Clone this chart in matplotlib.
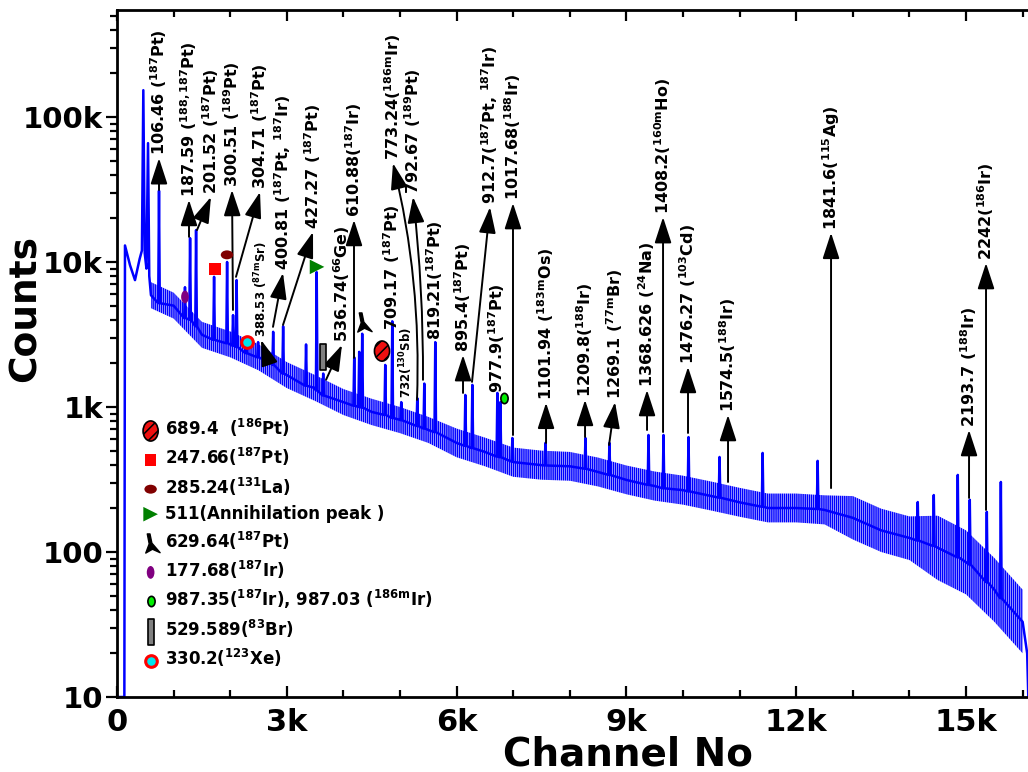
import matplotlib
matplotlib.use('Agg')
import matplotlib.pyplot as plt
from matplotlib.path import Path
from matplotlib.transforms import Affine2D
from matplotlib.ticker import FixedLocator, LogLocator, NullFormatter

plt.rcParams['font.family'] = 'DejaVu Sans'
plt.rcParams['font.weight'] = 'bold'
plt.rcParams['mathtext.default'] = 'regular'
plt.rcParams['hatch.linewidth'] = 1.1

# ---- spectrum (channel, counts) ----
# rising edge and the strong low-energy x-ray peaks
start_ch = [0, 130, 141, 230, 318, 400, 440, 465, 490, 520, 548, 570, 600]
start_cnt = [10, 10, 13000, 9500, 7500, 10500, 12000, 153000, 11500, 9000, 66000, 8000, 5900]

# continuum: lower / middle / upper envelope of the noisy band
band_ch = [600, 1000, 1500, 2000, 2500, 3000, 3500, 4000, 4500, 5000, 5500, 6000,
           6500, 7000, 7500, 8000, 8500, 9000, 9500, 10000, 10500, 11000, 11500,
           12000, 12500, 13000, 13500, 14000, 14500, 15000, 15500, 16000]
band_mid = [5900, 5000, 3150, 2700, 2200, 1660, 1350, 1080, 925, 815, 694, 565,
            490, 417, 397, 390, 356, 314, 285, 267, 243, 220, 201,
            201, 195, 172, 141, 125, 107, 85, 55, 33]
band_lo = [4800, 4070, 2560, 2200, 1790, 1350, 1100, 880, 750, 660, 565, 450,
           390, 330, 315, 310, 283, 250, 226, 212, 193, 175, 160,
           160, 155, 122, 100, 88, 64, 51, 33, 20]
band_hi = [7260, 6150, 3870, 3320, 2710, 2040, 1660, 1330, 1140, 1000, 855, 710,
           615, 525, 500, 490, 448, 395, 359, 336, 306, 277, 253,
           253, 246, 243, 199, 176, 178, 141, 91, 55]

# peaks: channel, top counts, counts at the foot
peak_ch = [742, 1201, 1291, 1397, 1715, 1945, 2050, 2113, 2281, 2493, 2670, 2759,
           2935, 3340, 3528, 3643, 4191, 4279, 4332, 4739, 4863, 5022, 5305, 5429,
           5623, 6154, 6278, 6720, 6773, 6985, 7569, 8276, 8700, 9390, 9655, 10097,
           10645, 11406, 12378, 14147, 14430, 14854, 15066, 15367, 15615]
peak_cnt = [31000, 6700, 14600, 16600, 7900, 10000, 4300, 7500, 3000, 2800, 2360, 3300,
            3600, 2700, 8500, 1700, 2200, 2400, 3200, 1950, 3900, 1080, 1150, 1450,
            2800, 1210, 1420, 1250, 1080, 611, 565, 611, 565, 641, 641, 620,
            452, 482, 425, 221, 247, 340, 229, 189, 304]
peak_foot = [5200, 4100, 4000, 3600, 2900, 2750, 2650, 2600, 2350, 2200, 2050, 1950,
             1700, 1400, 1300, 1200, 1020, 1000, 990, 880, 840, 810, 740, 710,
             670, 540, 520, 455, 450, 420, 395, 375, 340, 290, 275, 262,
             237, 205, 198, 120, 110, 92, 82, 62, 48]

end_ch = [16080, 16100]
end_cnt = [20, 10]

# ---- annotations: label, arrow tail (ch, counts), arrow head (ch, counts), curvature ----
arrows = [
    (r'106.46 ($^{187}$Pt)', (742, 31400), (742, 52000), 0),
    (r'187.59 ($^{188,187}$Pt)', (1272, 14900), (1272, 26800), 0),
    (r'201.52 ($^{187}$Pt)', (1413, 16600), (1660, 28100), 0),
    (r'300.51 ($^{189}$Pt)', (2049, 4670), (2032, 31400), 0),
    (r'304.71 ($^{187}$Pt)', (2102, 7900), (2527, 30400), 0),
    (r'400.81 ($^{187}$Pt, $^{187}$Ir)', (2756, 3570), (2933, 8400), 0),
    (r'427.27 ($^{187}$Pt)', (2933, 3680), (3463, 16100), 0),
    (r'536.74($^{66}$Ge)', (3693, 1540), (3975, 2680), 0),
    (r'610.88($^{187}$Ir)', (4187, 2180), (4187, 19500), 0),
    (r'773.24($^{186m}$Ir)', (5300, 1120), (4876, 48000), 0.07),
    (r'792.67 ($^{189}$Pt)', (5406, 1540), (5230, 28100), 0.03),
    (r'895.4($^{187}$Pt)', (6113, 1250), (6113, 2280), 0),
    (r'912.7($^{187}$Pt, $^{187}$Ir)', (6272, 1490), (6590, 23900), 0),
    (r'1017.68($^{188}$Ir)', (6996, 641), (6996, 25500), 0),
    (r'1101.94 ($^{183m}$Os)', (7580, 565), (7580, 1070), 0),
    (r'1209.8($^{188}$Ir)', (8269, 621), (8269, 1120), 0),
    (r'1269.1 ($^{77m}$Br)', (8693, 547), (8799, 1080), 0),
    (r'1368.626 ($^{24}$Na)', (9364, 694), (9364, 1310), 0),
    (r'1408.2($^{160m}$Ho)', (9647, 672), (9647, 20400), 0),
    (r'1476.27 ($^{103}$Cd)', (10088, 662), (10088, 1890), 0),
    (r'1574.5($^{188}$Ir)', (10795, 304), (10795, 881), 0),
    (r'1841.6($^{115}$Ag)', (12615, 276), (12615, 15900), 0),
    (r'2193.7 ($^{188}$Ir)', (15053, 236), (15053, 694), 0),
    (r'2242($^{186}$Ir)', (15353, 195), (15353, 9840), 0),
]
small_arrows = [
    (r'388.53 ($^{87m}$Sr)', (2650, 2210), (2545, 2900), 0),
]
plain_labels = [
    (r'709.17 ($^{187}$Pt)', (4859, 3400), 11.5),
    (r'819.21($^{187}$Pt)', (5618, 2900), 11.5),
    (r'977.9($^{187}$Pt)', (6714, 1250), 11.5),
    (r'732($^{130}$Sb)', (5106, 1150), 8.5),
]

# ---- marked peaks (legend) ----
mark_labels = [r'689.4  ($^{186}$Pt)', r'247.66($^{187}$Pt)', r'285.24($^{131}$La)',
               '511(Annihilation peak )', r'629.64($^{187}$Pt)', r'177.68($^{187}$Ir)',
               r'987.35($^{187}$Ir), 987.03 ($^{186m}$Ir)', r'529.589($^{83}$Br)',
               r'330.2($^{123}$Xe)']
mark_ch = [4682, 1731, 1943, 3534, 4346, 1201, 6837, 3640, 2297]
mark_cnt = [2430, 8960, 11200, 9250, 3860, 5740, 1150, 2210, 2800]

y_ticks = [10, 100, 1000, 10000, 100000]
y_ticklabels = ['10', '100', '1k', '10k', '100k']
x_ticks = [0, 3000, 6000, 9000, 12000, 15000]
x_ticklabels = ['0', '3k', '6k', '9k', '12k', '15k']

# ---- build the spectrum line ----
pts = list(zip(start_ch, start_cnt)) + list(zip(band_ch, band_mid))
for c, h, f in zip(peak_ch, peak_cnt, peak_foot):
    pts += [(c - 14, f), (c, h), (c + 14, f)]
pts += list(zip(end_ch, end_cnt))
pts.sort()
spec_x = [p[0] for p in pts]
spec_y = [p[1] for p in pts]

fig = plt.figure(figsize=(10.28, 7.72), dpi=100)
ax = fig.add_axes([117 / 1028, 75 / 772, 913 / 1028, 687.5 / 772])

# noisy continuum drawn as a band of fine vertical strokes
ax.fill_between(band_ch, band_lo, band_hi, facecolor='none', edgecolor='#0000ff',
                hatch='||||||||', linewidth=0)
ax.plot(spec_x, spec_y, color='#0000ff', lw=1.8)

ax.set_yscale('log')
ax.set_xlim(0, 16130)
ax.set_ylim(10, 551000)

# markers
ellipse_v = Affine2D().scale(0.75, 1).transform_path(Path.unit_circle())
ellipse_h = Affine2D().scale(1, 0.72).transform_path(Path.unit_circle())
ellipse_thin = Affine2D().scale(0.6, 1).transform_path(Path.unit_circle())
ellipse_small = Affine2D().scale(0.7, 1).transform_path(Path.unit_circle())
bar = Path([(-0.12, -0.5), (0.12, -0.5), (0.12, 0.5), (-0.12, 0.5), (-0.12, -0.5)], closed=True)
bolt = Path([(-0.22, 0.5), (-0.08, 0.5), (0.02, 0.02), (0.45, -0.48), (0.05, -0.3),
             (-0.3, -0.5), (-0.12, -0.02), (-0.22, 0.5)], closed=True)

styles = [
    dict(marker=ellipse_v, s=210, facecolor='#ee1111', edgecolor='black', linewidth=1.2, hatch='///'),
    dict(marker='s', s=70, facecolor='#ff0000', edgecolor='none'),
    dict(marker=ellipse_h, s=80, facecolor='#800000', edgecolor='none'),
    dict(marker='>', s=110, facecolor='#008000', edgecolor='none'),
    dict(marker=bolt, s=190, facecolor='black', edgecolor='black'),
    dict(marker=ellipse_thin, s=85, facecolor='#800080', edgecolor='none'),
    dict(marker=ellipse_small, s=55, facecolor='#00ee00', edgecolor='black', linewidth=1.2),
    dict(marker=bar, s=330, facecolor='#808080', edgecolor='black', linewidth=1.2),
    dict(marker='o', s=70, facecolor='#00e5ee', edgecolor='#ff0000', linewidth=2.2),
]
handles = []
for x, y, st in zip(mark_ch, mark_cnt, styles):
    handles.append(ax.scatter([x], [y], zorder=5, **st))

leg = ax.legend(handles, mark_labels, loc='upper left', bbox_to_anchor=(0.014, 0.419),
                frameon=False, fontsize=12, scatterpoints=1, handlelength=1.5,
                handletextpad=0.1, labelspacing=0.42, borderpad=0)

# arrows and labels
def draw_arrow(label, tail, head, rad, fs):
    ax.annotate('', xy=head, xytext=tail,
                arrowprops=dict(arrowstyle='-|>,head_length=0.8,head_width=0.26',
                                mutation_scale=20, color='black', lw=1.4,
                                shrinkA=0, shrinkB=0,
                                connectionstyle='arc3,rad=%s' % rad))
    ax.annotate(label, xy=head, xytext=(0, 2), textcoords='offset points',
                rotation=90, rotation_mode='anchor', ha='left', va='center',
                fontsize=fs, fontweight='bold')

for label, tail, head, rad in arrows:
    draw_arrow(label, tail, head, rad, 11.5)
for label, tail, head, rad in small_arrows:
    draw_arrow(label, tail, head, rad, 8.5)
for label, pos, fs in plain_labels:
    ax.text(pos[0], pos[1], label, rotation=90, rotation_mode='anchor',
            ha='left', va='center', fontsize=fs, fontweight='bold')

# axes styling
for sp in ax.spines.values():
    sp.set_linewidth(2)
ax.xaxis.set_major_locator(FixedLocator(x_ticks))
ax.xaxis.set_minor_locator(FixedLocator(range(0, 16001, 1000)))
ax.set_xticklabels(x_ticklabels)
ax.yaxis.set_major_locator(FixedLocator(y_ticks))
ax.yaxis.set_minor_locator(LogLocator(base=10, subs=range(2, 10)))
ax.yaxis.set_minor_formatter(NullFormatter())
ax.set_yticklabels(y_ticklabels)

ax.tick_params(axis='x', which='both', direction='in', top=True, bottom=True, width=1.6, labelsize=22, pad=8)
ax.tick_params(axis='x', which='major', length=8)
ax.tick_params(axis='x', which='minor', length=5)
ax.tick_params(axis='y', which='both', direction='out', left=True, right=False, width=1.6, labelsize=21, pad=2)
ax.tick_params(axis='y', which='major', length=8)
ax.tick_params(axis='y', which='minor', length=5)

fig.text(26 / 1028, 1 - 308 / 772, 'Counts', rotation=90, ha='center', va='center',
         fontsize=27, fontweight='bold')
fig.text(628 / 1028, 1 - 755 / 772, 'Channel No', ha='center', va='center',
         fontsize=28, fontweight='bold')

fig.savefig('out.png', dpi=100)
